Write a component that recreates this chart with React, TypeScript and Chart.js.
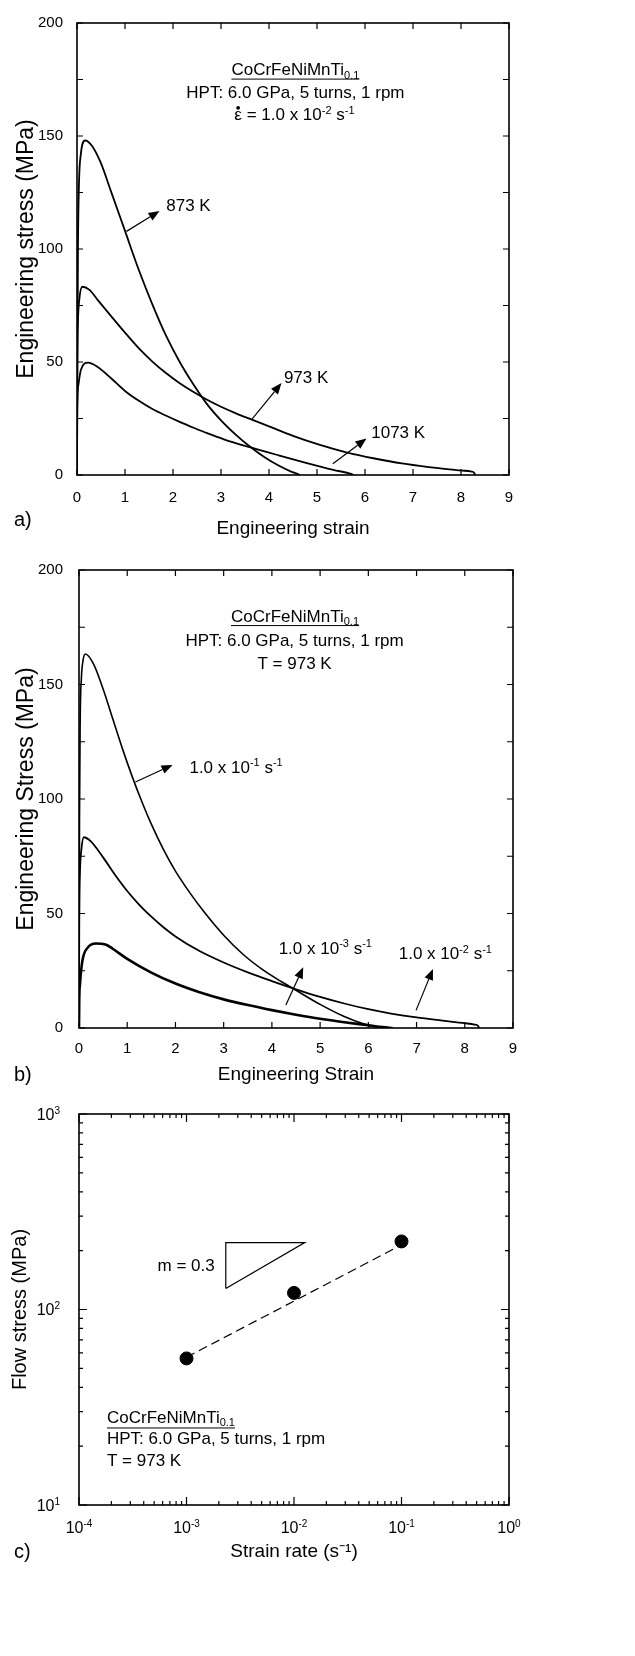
import React, { useEffect, useRef } from 'react';
import { Chart, registerables } from 'chart.js';

Chart.register(...registerables);

const FONT = '"Liberation Sans", Arial, Helvetica, sans-serif';

// ---------- Panel a : engineering stress vs strain at three temperatures ----------
const strainTicks = [0, 1, 2, 3, 4, 5, 6, 7, 8, 9];
const stressTicks = [0, 25, 50, 75, 100, 125, 150, 175, 200];
const stressLabelTicks = [0, 50, 100, 150, 200];

const a873Strain = [0, 0.01, 0.02, 0.04, 0.08, 0.17, 0.31, 0.49, 0.71, 1.0, 1.29, 1.57, 1.86, 2.14, 2.43, 2.7, 3.0, 3.3, 3.6, 3.9, 4.2, 4.45, 4.6, 4.65];
const a873Stress = [0, 60, 100, 128, 142, 148, 145.7, 138.4, 125.4, 108, 90.6, 75.5, 61.4, 50, 39.9, 31.6, 24.2, 18.0, 12.6, 8.0, 4.2, 1.6, 0.4, 0];

const a973Strain = [0, 0.005, 0.02, 0.05, 0.11, 0.26, 0.43, 0.71, 1.0, 1.29, 1.57, 1.86, 2.14, 2.43, 2.7, 3.0, 3.3, 3.63, 4.0, 4.5, 5.06, 5.63, 6.2, 6.77, 7.29, 8.0, 8.22, 8.27, 8.3];
const a973Stress = [0, 45, 68, 78, 83.3, 81.9, 77.5, 70.3, 63.0, 56.0, 50.2, 45.0, 40.6, 36.7, 33.4, 30.2, 27.4, 24.6, 21.5, 17.3, 13.3, 9.9, 7.3, 5.1, 3.6, 2.0, 1.5, 1.1, 0];

const a1073Strain = [0, 0.005, 0.03, 0.08, 0.23, 0.43, 0.71, 1.0, 1.29, 1.57, 1.86, 2.14, 2.43, 2.71, 3.06, 3.6, 4.2, 4.77, 5.34, 5.69, 5.77];
const a1073Stress = [0, 28, 40, 46.5, 49.7, 47.8, 42.8, 37.2, 32.8, 29.2, 26.2, 23.5, 20.9, 18.5, 15.8, 12.3, 8.7, 5.4, 2.3, 0.6, 0];

// ---------- Panel b : engineering stress vs strain at three strain rates ----------
const b1e1Strain = [0, 0.01, 0.025, 0.05, 0.08, 0.13, 0.3, 0.5, 0.7, 0.9, 1.1, 1.3, 1.5, 1.75, 2.0, 2.3, 2.6, 3.0, 3.4, 3.8, 4.2, 4.5, 5.0, 5.5, 5.9, 6.15, 6.3];
const b1e1Stress = [0, 90, 135, 153, 160, 163.3, 159, 148, 135, 122, 110, 99, 89, 78, 68.5, 59, 50.5, 40.5, 32.2, 25.6, 20.2, 16.5, 10.3, 5.0, 1.8, 0.5, 0];

const b1e2Strain = [0, 0.005, 0.02, 0.05, 0.1, 0.24, 0.5, 0.75, 1.0, 1.25, 1.5, 1.75, 2.0, 2.5, 3.0, 3.5, 4.0, 4.5, 5.0, 5.5, 6.0, 6.5, 7.0, 7.5, 8.0, 8.2, 8.27, 8.3];
const b1e2Stress = [0, 45, 68, 78, 83.3, 81.6, 74.5, 66.8, 59.8, 53.8, 48.6, 44.0, 40.0, 33.6, 28.6, 24.3, 20.5, 16.9, 13.6, 10.7, 8.2, 6.2, 4.6, 3.3, 2.1, 1.5, 1.0, 0];

const b1e3Strain = [0, 0.005, 0.02, 0.07, 0.18, 0.35, 0.55, 0.7, 1.0, 1.5, 2.0, 2.5, 3.0, 3.5, 4.0, 4.5, 5.0, 5.5, 6.0, 6.3, 6.5];
const b1e3Stress = [0, 12, 19, 29.3, 35.1, 36.9, 36.5, 34.6, 30.2, 24.2, 19.4, 15.6, 12.5, 10.0, 7.8, 5.8, 4.0, 2.5, 1.2, 0.4, 0];

// ---------- Panel c : flow stress vs strain rate ----------
const rateMajor = [1e-4, 1e-3, 1e-2, 1e-1, 1];
const rateLabels = ['10^{-4}', '10^{-3}', '10^{-2}', '10^{-1}', '10^{0}'];
const flowMajor = [10, 100, 1000];
const flowLabels = ['10^{1}', '10^{2}', '10^{3}'];
const minorMultipliers = [2, 3, 4, 5, 6, 7, 8, 9];

const cRate = [1e-3, 1e-2, 1e-1];
const cFlow = [56.2, 121.6, 223];
const cFitRate = [1e-3, 1e-1];
const cFitFlow = [57, 214];
const cTriRate = [2.32e-3, 2.32e-3, 1.26e-2, 2.32e-3];
const cTriFlow = [128, 220, 220, 128];

// ---------- annotations (data coordinates) ----------
type Txt = { x: number; y: number; s: string; align: 'left' | 'center' | 'right'; underline?: boolean; dot?: boolean };
type Arr = { x1: number; y1: number; x2: number; y2: number };

const textsA: Txt[] = [
  { x: 4.55, y: 179.6, s: 'CoCrFeNiMnTi_{0.1}', align: 'center', underline: true },
  { x: 4.55, y: 169.4, s: 'HPT: 6.0 GPa, 5 turns, 1 rpm', align: 'center' },
  { x: 4.53, y: 159.6, s: 'ε = 1.0 x 10^{-2} s^{-1}', align: 'center', dot: true },
  { x: 1.86, y: 119.4, s: '873 K', align: 'left' },
  { x: 4.31, y: 43.3, s: '973 K', align: 'left' },
  { x: 6.13, y: 19.0, s: '1073 K', align: 'left' },
];
const arrowsA: Arr[] = [
  { x1: 1.03, y1: 107.8, x2: 1.72, y2: 116.8 },
  { x1: 3.65, y1: 24.8, x2: 4.26, y2: 40.7 },
  { x1: 5.33, y1: 5.0, x2: 6.03, y2: 16.1 },
];

const textsB: Txt[] = [
  { x: 4.48, y: 180.1, s: 'CoCrFeNiMnTi_{0.1}', align: 'center', underline: true },
  { x: 4.47, y: 169.7, s: 'HPT: 6.0 GPa, 5 turns, 1 rpm', align: 'center' },
  { x: 4.47, y: 159.6, s: 'T = 973 K', align: 'center' },
  { x: 2.29, y: 114.2, s: '1.0 x 10^{-1} s^{-1}', align: 'left' },
  { x: 4.14, y: 35.2, s: '1.0 x 10^{-3} s^{-1}', align: 'left' },
  { x: 6.63, y: 32.6, s: '1.0 x 10^{-2} s^{-1}', align: 'left' },
];
const arrowsB: Arr[] = [
  { x1: 1.17, y1: 107.4, x2: 1.94, y2: 114.9 },
  { x1: 4.29, y1: 10.0, x2: 4.65, y2: 26.5 },
  { x1: 6.99, y1: 7.7, x2: 7.34, y2: 25.8 },
];

const textsC: Txt[] = [
  { x: 1.83e-3, y: 170, s: 'm = 0.3', align: 'right' },
  { x: 1.82e-4, y: 28.2, s: 'CoCrFeNiMnTi_{0.1}', align: 'left', underline: true },
  { x: 1.82e-4, y: 22.0, s: 'HPT: 6.0 GPa, 5 turns, 1 rpm', align: 'left' },
  { x: 1.82e-4, y: 17.1, s: 'T = 973 K', align: 'left' },
];

// ---------- helpers ----------
const toPts = (xs: number[], ys: number[]) => xs.map((x, i) => ({ x, y: ys[i] }));

function parseRich(s: string) {
  const out: { t: string; k: 'n' | 'sup' | 'sub' }[] = [];
  const re = /([\^_])\{([^}]*)\}/g;
  let last = 0;
  let m: RegExpExecArray | null;
  while ((m = re.exec(s))) {
    if (m.index > last) out.push({ t: s.slice(last, m.index), k: 'n' });
    out.push({ t: m[2], k: m[1] === '^' ? 'sup' : 'sub' });
    last = re.lastIndex;
  }
  if (last < s.length) out.push({ t: s.slice(last), k: 'n' });
  return out;
}

function drawRich(ctx: CanvasRenderingContext2D, s: string, x: number, y: number, size: number, align: string) {
  const segs = parseRich(s);
  const small = Math.round(size * 0.65);
  const widths = segs.map((g) => {
    ctx.font = `${g.k === 'n' ? size : small}px ${FONT}`;
    return ctx.measureText(g.t).width;
  });
  const total = widths.reduce((a, b) => a + b, 0);
  let cx = align === 'left' ? x : align === 'right' ? x - total : x - total / 2;
  const x0 = cx;
  const base = y + size * 0.36;
  ctx.textAlign = 'left';
  ctx.textBaseline = 'alphabetic';
  segs.forEach((g, i) => {
    ctx.font = `${g.k === 'n' ? size : small}px ${FONT}`;
    const by = g.k === 'sup' ? base - size * 0.38 : g.k === 'sub' ? base + size * 0.2 : base;
    ctx.fillText(g.t, cx, by);
    cx += widths[i];
  });
  return { x0, x1: cx, base };
}

type DecorCfg = {
  id: string;
  xMajor: number[];
  yMajor: number[];
  xMinor: number[];
  yMinor: number[];
  majorLen: number;
  minorLen: number;
  texts: Txt[];
  arrows: Arr[];
  ulOffset: number;
  panel: string;
  panelDy: number;
  xLabels?: string[];
  yLabels?: string[];
};

function decorPlugin(cfg: DecorCfg) {
  return {
    id: cfg.id,
    afterDraw(chart: any) {
      const { ctx, chartArea } = chart;
      const { left, right, top, bottom } = chartArea;
      const xs = chart.scales.x;
      const ys = chart.scales.y;
      ctx.save();
      ctx.strokeStyle = '#000';
      ctx.fillStyle = '#000';
      ctx.lineWidth = 1.2;
      ctx.beginPath();
      const tickX = (v: number, len: number) => {
        const p = xs.getPixelForValue(v);
        ctx.moveTo(p, bottom);
        ctx.lineTo(p, bottom - len);
        ctx.moveTo(p, top);
        ctx.lineTo(p, top + len);
      };
      const tickY = (v: number, len: number) => {
        const p = ys.getPixelForValue(v);
        ctx.moveTo(left, p);
        ctx.lineTo(left + len, p);
        ctx.moveTo(right, p);
        ctx.lineTo(right - len, p);
      };
      cfg.xMajor.forEach((v) => tickX(v, cfg.majorLen));
      cfg.yMajor.forEach((v) => tickY(v, cfg.majorLen));
      cfg.xMinor.forEach((v) => tickX(v, cfg.minorLen));
      cfg.yMinor.forEach((v) => tickY(v, cfg.minorLen));
      ctx.stroke();
      ctx.lineWidth = 1.6;
      ctx.strokeRect(left, top, right - left, bottom - top);

      // tick labels with real superscripts (log panel)
      if (cfg.xLabels) {
        cfg.xMajor.forEach((v, i) => drawRich(ctx, cfg.xLabels![i], xs.getPixelForValue(v), bottom + 22, 16, 'center'));
      }
      if (cfg.yLabels) {
        cfg.yMajor.forEach((v, i) => drawRich(ctx, cfg.yLabels![i], left - 19, ys.getPixelForValue(v), 16, 'right'));
      }

      // arrows
      cfg.arrows.forEach((a) => {
        const x1 = xs.getPixelForValue(a.x1);
        const y1 = ys.getPixelForValue(a.y1);
        const x2 = xs.getPixelForValue(a.x2);
        const y2 = ys.getPixelForValue(a.y2);
        const ang = Math.atan2(y2 - y1, x2 - x1);
        const hl = 11;
        const hw = 4.5;
        const bx = x2 - hl * Math.cos(ang);
        const by = y2 - hl * Math.sin(ang);
        ctx.lineWidth = 1.2;
        ctx.beginPath();
        ctx.moveTo(x1, y1);
        ctx.lineTo(bx, by);
        ctx.stroke();
        ctx.beginPath();
        ctx.moveTo(x2, y2);
        ctx.lineTo(bx + hw * Math.sin(ang), by - hw * Math.cos(ang));
        ctx.lineTo(bx - hw * Math.sin(ang), by + hw * Math.cos(ang));
        ctx.closePath();
        ctx.fill();
      });

      // texts
      cfg.texts.forEach((t) => {
        const px = xs.getPixelForValue(t.x);
        const py = ys.getPixelForValue(t.y);
        const r = drawRich(ctx, t.s, px, py, 17, t.align);
        if (t.dot) {
          ctx.font = `17px ${FONT}`;
          const w = ctx.measureText(t.s.charAt(0)).width;
          ctx.beginPath();
          ctx.arc(r.x0 + w / 2, r.base - 17 * 0.74, 1.9, 0, Math.PI * 2);
          ctx.fill();
        }
        if (t.underline) {
          ctx.lineWidth = 1;
          ctx.beginPath();
          ctx.moveTo(r.x0, py + cfg.ulOffset);
          ctx.lineTo(r.x1, py + cfg.ulOffset);
          ctx.stroke();
        }
      });

      // panel label
      ctx.font = `20px ${FONT}`;
      ctx.textAlign = 'left';
      ctx.textBaseline = 'middle';
      ctx.fillText(cfg.panel, 14, bottom + cfg.panelDy);
      ctx.restore();
    },
  };
}

const lineDs = (xs: number[], ys: number[], width: number) => ({
  data: toPts(xs, ys),
  borderColor: '#000',
  backgroundColor: '#000',
  borderWidth: width,
  pointRadius: 0,
  fill: false,
  cubicInterpolationMode: 'monotone' as const,
});

type StressCfg = {
  datasets: any[];
  top: number;
  bottom: number;
  left: number;
  right: number;
  height: number;
  xTitle: string;
  yTitle: string;
  xPad: number;
  yPad: number;
  xTitleBottom: number;
  yTitleTop: number;
  decor: DecorCfg;
};

function buildStress(canvas: HTMLCanvasElement, c: StressCfg) {
  const tickFont = { family: FONT, size: 15 };
  return new Chart(canvas, {
    type: 'line',
    data: { datasets: c.datasets },
    options: {
      responsive: false,
      animation: false,
      devicePixelRatio: 1,
      events: [],
      layout: { padding: { left: 0, right: 635 - c.right, top: c.top, bottom: 0 } },
      plugins: { legend: { display: false }, tooltip: { enabled: false } },
      scales: {
        x: {
          type: 'linear',
          min: 0,
          max: 9,
          afterBuildTicks: (s: any) => {
            s.ticks = strainTicks.map((v) => ({ value: v }));
          },
          afterFit: (s: any) => {
            s.height = c.height - c.bottom;
          },
          ticks: { autoSkip: false, maxRotation: 0, padding: c.xPad, color: '#000', font: tickFont, callback: (v: any) => String(v) },
          grid: { display: false, drawTicks: false },
          border: { display: false },
          title: { display: true, text: c.xTitle, color: '#000', font: { family: FONT, size: 19 }, padding: { top: 0, bottom: c.xTitleBottom } },
        },
        y: {
          type: 'linear',
          min: 0,
          max: 200,
          afterBuildTicks: (s: any) => {
            s.ticks = stressTicks.map((v) => ({ value: v }));
          },
          afterFit: (s: any) => {
            s.width = c.left;
          },
          ticks: {
            autoSkip: false,
            padding: c.yPad,
            color: '#000',
            font: tickFont,
            callback: (v: any) => (stressLabelTicks.includes(v) ? String(v) : ''),
          },
          grid: { display: false, drawTicks: false },
          border: { display: false },
          title: { display: true, text: c.yTitle, color: '#000', font: { family: FONT, size: 23 }, padding: { top: c.yTitleTop, bottom: 0 } },
        },
      },
    } as any,
    plugins: [decorPlugin(c.decor)],
  });
}

function buildRate(canvas: HTMLCanvasElement) {
  const xMinor: number[] = [];
  rateMajor.slice(0, -1).forEach((d) => minorMultipliers.forEach((m) => xMinor.push(d * m)));
  const yMinor: number[] = [];
  flowMajor.slice(0, -1).forEach((d) => minorMultipliers.forEach((m) => yMinor.push(d * m)));
  const height = 566;
  const top = 24;
  const bottom = 415;
  const padBottom = 90;
  return new Chart(canvas, {
    type: 'scatter',
    data: {
      datasets: [
        {
          data: toPts(cRate, cFlow),
          pointRadius: 6.5,
          pointBackgroundColor: '#000',
          pointBorderColor: '#000',
          showLine: false,
        },
        {
          data: toPts(cFitRate, cFitFlow),
          showLine: true,
          borderColor: '#000',
          borderWidth: 1.2,
          borderDash: [9, 5],
          pointRadius: 0,
        },
        {
          data: toPts(cTriRate, cTriFlow),
          showLine: true,
          borderColor: '#000',
          borderWidth: 1.2,
          pointRadius: 0,
        },
      ],
    },
    options: {
      responsive: false,
      animation: false,
      devicePixelRatio: 1,
      events: [],
      layout: { padding: { left: 0, right: 635 - 509, top, bottom: padBottom } },
      plugins: { legend: { display: false }, tooltip: { enabled: false } },
      scales: {
        x: {
          type: 'logarithmic',
          min: 1e-4,
          max: 1,
          afterBuildTicks: (s: any) => {
            s.ticks = rateMajor.map((v) => ({ value: v }));
          },
          afterFit: (s: any) => {
            s.height = height - padBottom - bottom;
          },
          ticks: { display: false },
          grid: { display: false, drawTicks: false },
          border: { display: false },
          title: { display: true, text: 'Strain rate (s⁻¹)', color: '#000', font: { family: FONT, size: 19 }, padding: { top: 0, bottom: 3 } },
        },
        y: {
          type: 'logarithmic',
          min: 10,
          max: 1000,
          afterBuildTicks: (s: any) => {
            s.ticks = flowMajor.map((v) => ({ value: v }));
          },
          afterFit: (s: any) => {
            s.width = 79;
          },
          ticks: { display: false },
          grid: { display: false, drawTicks: false },
          border: { display: false },
          title: { display: true, text: 'Flow stress (MPa)', color: '#000', font: { family: FONT, size: 20 }, padding: { top: 8, bottom: 0 } },
        },
      },
    } as any,
    plugins: [
      decorPlugin({
        id: 'decorC',
        xMajor: rateMajor,
        yMajor: flowMajor,
        xMinor,
        yMinor,
        majorLen: 8,
        minorLen: 4,
        texts: textsC,
        arrows: [],
        ulOffset: 11,
        panel: 'c)',
        panelDy: 47,
        xLabels: rateLabels,
        yLabels: flowLabels,
      }),
    ],
  });
}

function ChartBox({ top, height, build }: { top: number; height: number; build: (c: HTMLCanvasElement) => Chart }) {
  const ref = useRef<HTMLCanvasElement>(null);
  useEffect(() => {
    const chart = build(ref.current as HTMLCanvasElement);
    return () => chart.destroy();
  }, []);
  return (
    <canvas
      ref={ref}
      width={635}
      height={height}
      style={{ position: 'absolute', left: 0, top, width: 635, height, display: 'block' }}
    />
  );
}

export default function App() {
  useEffect(() => {
    document.body.style.margin = '0';
  }, []);
  return (
    <div style={{ position: 'absolute', left: 0, top: 0, width: 635, height: 1656, background: '#fff', overflow: 'hidden' }}>
      <ChartBox
        top={0}
        height={545}
        build={(cv) =>
          buildStress(cv, {
            datasets: [lineDs(a873Strain, a873Stress, 1.8), lineDs(a973Strain, a973Stress, 1.8), lineDs(a1073Strain, a1073Stress, 1.8)],
            top: 15,
            bottom: 475,
            left: 77,
            right: 509,
            height: 545,
            xTitle: 'Engineering strain',
            yTitle: 'Engineering stress (MPa)',
            xPad: 14,
            yPad: 14,
            xTitleBottom: 5,
            yTitleTop: 13,
            decor: {
              id: 'decorA',
              xMajor: strainTicks,
              yMajor: stressTicks,
              xMinor: [],
              yMinor: [],
              majorLen: 6,
              minorLen: 0,
              texts: textsA,
              arrows: arrowsA,
              ulOffset: 10,
              panel: 'a)',
              panelDy: 45,
            },
          })
        }
      />
      <ChartBox
        top={545}
        height={545}
        build={(cv) =>
          buildStress(cv, {
            datasets: [lineDs(b1e1Strain, b1e1Stress, 1.6), lineDs(b1e2Strain, b1e2Stress, 1.8), lineDs(b1e3Strain, b1e3Stress, 2.6)],
            top: 23,
            bottom: 483,
            left: 79,
            right: 513,
            height: 545,
            xTitle: 'Engineering Strain',
            yTitle: 'Engineering Stress (MPa)',
            xPad: 12,
            yPad: 16,
            xTitleBottom: 4,
            yTitleTop: 13,
            decor: {
              id: 'decorB',
              xMajor: strainTicks,
              yMajor: stressTicks,
              xMinor: [],
              yMinor: [],
              majorLen: 6,
              minorLen: 0,
              texts: textsB,
              arrows: arrowsB,
              ulOffset: 10,
              panel: 'b)',
              panelDy: 47,
            },
          })
        }
      />
      <ChartBox top={1090} height={566} build={(cv) => buildRate(cv)} />
    </div>
  );
}
